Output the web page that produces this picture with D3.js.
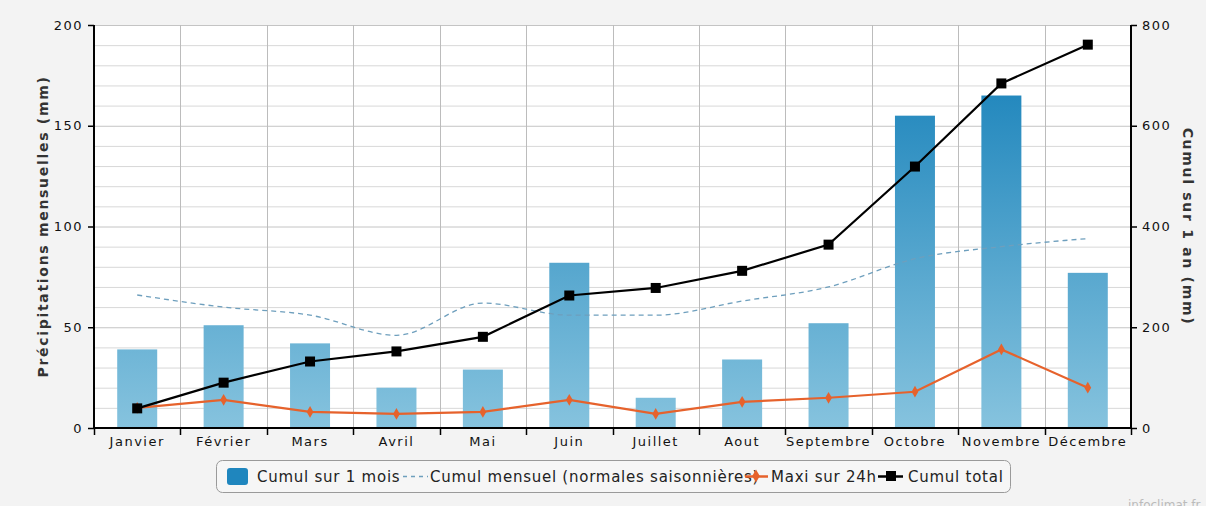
<!DOCTYPE html>
<html><head><meta charset="utf-8">
<script src="https://cdn.jsdelivr.net/npm/d3@7"></script>
<style>
html,body{margin:0;padding:0;background:#f3f3f3;}
svg{display:block;font-family:"DejaVu Sans",Verdana,sans-serif;}
</style></head><body>
<svg id="c" width="1206" height="506"></svg>
<script>
const months = ["Janvier","Février","Mars","Avril","Mai","Juin","Juillet","Aout","Septembre","Octobre","Novembre","Décembre"];
const cumulMois = [39,51,42,20,29,82,15,34,52,155,165,77];
const normales = [66,60,56,46,62,56,56,63,70,84,90,94];
const maxi24h = [10,14,8,7,8,14,7,13,15,18,39,20];
const cumulTotal = [39,90,132,152,181,263,278,312,364,519,684,761];
const leftTicks = [0,50,100,150,200];
const rightTicks = [0,200,400,600,800];

const svg = d3.select("#c");
const L = 94, R = 1131, T = 25, B = 428;
const x = d3.scaleBand().domain(months).range([L,R]).paddingInner(0).paddingOuter(0);
const yL = d3.scaleLinear().domain([0,200]).range([B,T]);
const yR = d3.scaleLinear().domain([0,800]).range([B,T]);
const cx = d => x(d) + x.bandwidth()/2;

// gradient
const defs = svg.append("defs");
const g = defs.append("linearGradient").attr("id","barG").attr("gradientUnits","userSpaceOnUse")
  .attr("x1",0).attr("x2",0).attr("y1",T+60).attr("y2",B);
g.append("stop").attr("offset","0%").attr("stop-color","#2187bd");
g.append("stop").attr("offset","100%").attr("stop-color","#86c3de");

// plot background
svg.append("rect").attr("x",L).attr("y",T).attr("width",R-L).attr("height",B-T).attr("fill","#fff");

// horizontal grid every 10
svg.append("g").selectAll("line").data(d3.range(10,201,10)).join("line")
  .attr("x1",L).attr("x2",R).attr("y1",d=>yL(d)+0.5).attr("y2",d=>yL(d)+0.5)
  .attr("stroke",d=>d%50===0?"#c4c4c4":"#d8d8d8").attr("stroke-width",1);
// vertical grid at category boundaries
svg.append("g").selectAll("line").data(months.slice(1)).join("line")
  .attr("x1",d=>Math.round(x(d))+0.5).attr("x2",d=>Math.round(x(d))+0.5).attr("y1",T).attr("y2",B)
  .attr("stroke","#bcbcbc");

// bars
const bw = 40;
svg.append("g").selectAll("rect").data(cumulMois).join("rect")
  .attr("x",(d,i)=>cx(months[i])-bw/2).attr("width",bw)
  .attr("y",d=>yL(d)).attr("height",d=>B-yL(d)).attr("fill","url(#barG)");

// normales dashed
svg.append("path").datum(normales)
  .attr("d",d3.line().x((d,i)=>cx(months[i])).y(d=>yL(d)).curve(d3.curveMonotoneX))
  .attr("fill","none").attr("stroke","#6e9fbd").attr("stroke-width",1.3).attr("stroke-dasharray","5,4");

// maxi 24h
svg.append("path").datum(maxi24h)
  .attr("d",d3.line().x((d,i)=>cx(months[i])).y(d=>yL(d)))
  .attr("fill","none").attr("stroke","#e6622c").attr("stroke-width",2.2);
svg.append("g").selectAll("path").data(maxi24h).join("path")
  .attr("d",d3.symbol().type(d3.symbolDiamond).size(40))
  .attr("transform",(d,i)=>`translate(${cx(months[i])},${yL(d)})`)
  .attr("fill","#e6622c");

// cumul total
svg.append("path").datum(cumulTotal)
  .attr("d",d3.line().x((d,i)=>cx(months[i])).y(d=>yR(d)))
  .attr("fill","none").attr("stroke","#000").attr("stroke-width",2.2);
svg.append("g").selectAll("rect").data(cumulTotal).join("rect")
  .attr("x",(d,i)=>cx(months[i])-5).attr("y",d=>yR(d)-5).attr("width",10).attr("height",10)
  .attr("fill","#000");

// axes
const axL = svg.append("g").attr("transform",`translate(${L},0)`)
  .call(d3.axisLeft(yL).tickValues(leftTicks).tickSize(6).tickPadding(5));
const axR = svg.append("g").attr("transform",`translate(${R},0)`)
  .call(d3.axisRight(yR).tickValues(rightTicks).tickSize(6).tickPadding(5));
const axB = svg.append("g").attr("transform",`translate(0,${B})`)
  .call(d3.axisBottom(x).tickSize(0).tickPadding(6));
// bottom boundary ticks
svg.append("g").selectAll("line").data(months.concat(["end"])).join("line")
  .attr("x1",(d,i)=>Math.round(i<12?x(d):R)+0.5).attr("x2",(d,i)=>Math.round(i<12?x(d):R)+0.5)
  .attr("y1",B).attr("y2",B+7).attr("stroke","#000").attr("stroke-width",1.5);
[axL,axR,axB].forEach(a=>{
  a.selectAll(".domain").attr("stroke","#000").attr("stroke-width",2);
  a.selectAll(".tick line").attr("stroke","#000").attr("stroke-width",1.5);
  a.selectAll("text").attr("font-family","'DejaVu Sans',sans-serif").attr("font-size",13)
    .attr("letter-spacing","1.5px").attr("fill","#111");
});
axL.select(".domain").attr("d",`M0,${T}V${B}`);
axR.select(".domain").attr("d",`M0,${T}V${B}`);
axB.select(".domain").attr("d",`M${L},0H${R}`);
axB.selectAll("text").attr("dy","0.9em");

// axis titles
svg.append("text").attr("transform",`translate(48,${(T+B)/2}) rotate(-90)`)
  .attr("text-anchor","middle").attr("font-size",14).attr("font-weight","bold").attr("fill","#333")
  .attr("letter-spacing","1.7px")
  .text("Précipitations mensuelles (mm)");
svg.append("text").attr("transform",`translate(1183,${(T+B)/2}) rotate(90)`)
  .attr("text-anchor","middle").attr("font-size",14).attr("font-weight","bold").attr("fill","#333")
  .attr("letter-spacing","1.7px")
  .text("Cumul sur 1 an (mm)");

// legend
const lg = svg.append("g");
lg.append("rect").attr("x",216.5).attr("y",460.5).attr("width",794).attr("height",32).attr("rx",6)
  .attr("fill","#f6f6f6").attr("stroke","#9a9a9a");
lg.append("rect").attr("x",227).attr("y",468).attr("width",21).attr("height",17).attr("rx",3).attr("fill","#1f86be");
const lt = (xx,t)=>lg.append("text").attr("x",xx).attr("y",482).attr("font-size",15)
  .attr("letter-spacing","0.75px").attr("fill","#222").text(t);
lt(257,"Cumul sur 1 mois");
lg.append("line").attr("x1",403).attr("x2",428).attr("y1",476.5).attr("y2",476.5)
  .attr("stroke","#6e9fbd").attr("stroke-width",1.3).attr("stroke-dasharray","4,4");
lt(430,"Cumul mensuel (normales saisonnières)");
lg.append("line").attr("x1",745).attr("x2",768).attr("y1",476.5).attr("y2",476.5).attr("stroke","#e6622c").attr("stroke-width",2.5);
lg.append("path").attr("d",d3.symbol().type(d3.symbolDiamond).size(50)).attr("transform","translate(756,476)").attr("fill","#e6622c");
lt(771,"Maxi sur 24h");
lg.append("line").attr("x1",878).attr("x2",903).attr("y1",476.5).attr("y2",476.5).attr("stroke","#000").attr("stroke-width",2.5);
lg.append("rect").attr("x",886).attr("y",471).attr("width",10).attr("height",10).attr("fill","#000");
lt(908,"Cumul total");

svg.append("text").attr("x",1128).attr("y",509).attr("font-size",12).attr("fill","#bbb").text("infoclimat.fr");
</script>
</body></html>
